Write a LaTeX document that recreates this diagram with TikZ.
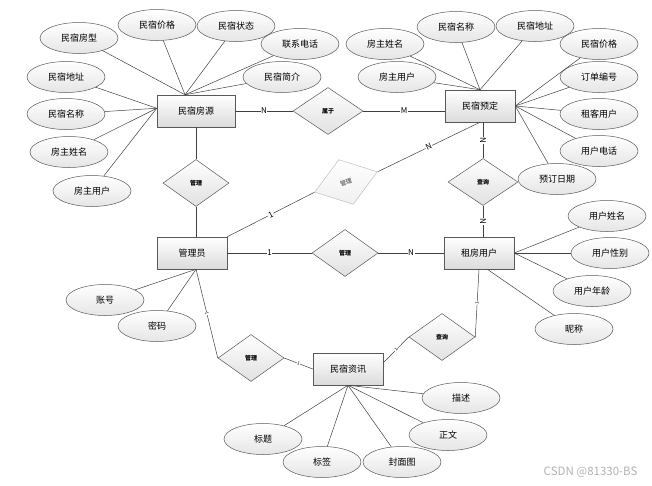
\documentclass[tikz,border=0pt]{standalone}
\usepackage{fontspec}
\setmainfont{Noto Sans CJK SC}
\usetikzlibrary{positioning,shapes.geometric}

\begin{document}
\begin{tikzpicture}[x=1pt, y=-1pt,
    font=\fontsize{9}{10}\selectfont, line width=0.5pt, draw=black!75,
    ent/.style={draw=black!65, top color=white, bottom color=black!14, minimum width=70pt, minimum height=32pt, inner sep=0pt},
    attr/.style={draw=black!65, ellipse, top color=white, bottom color=black!10, minimum width=78pt, minimum height=31pt, inner sep=0pt},
    rel/.style={draw=black!65, diamond, top color=white, bottom color=black!12, minimum width=66pt, minimum height=47pt, inner sep=0pt, font=\fontsize{6}{6}\selectfont\bfseries},
    card/.style={fill=white, inner sep=0.6pt, font=\fontsize{8}{8}\selectfont},
    tick/.style={fill=white, inner sep=0.3pt, sloped, font=\fontsize{4.5}{4.5}\selectfont}]
  \useasboundingbox (0,0) rectangle (652,485);

  % entities
  \node[ent, minimum width=78pt] (fy) at (196,111) {民宿房源};
  \node[ent] (yd) at (480,106) {民宿预定};
  \node[ent] (gly) at (192,253) {管理员};
  \node[ent] (zf) at (479,253) {租房用户};
  \node[ent] (zx) at (348,369) {民宿资讯};

  % relations
  \node[rel, minimum width=70pt] (sy) at (328,111) {属于};
  \node[rel] (gl1) at (196,183) {管理};
  \node[rel, rotate=18, draw=black!25, text=black!50, bottom color=black!6] (gl2) at (346,182) {管理};
  \node[rel, minimum width=70pt] (cx1) at (483,182) {查询};
  \node[rel] (gl3) at (345,253) {管理};
  \node[rel] (cx2) at (442,337) {查询};
  \node[rel] (gl4) at (251,358) {管理};

  % attributes of 民宿房源
  \node[attr] (fa1) at (79,38) {民宿房型};
  \node[attr] (fa2) at (157,25) {民宿价格};
  \node[attr] (fa3) at (236,26) {民宿状态};
  \node[attr] (fa4) at (300,44) {联系电话};
  \node[attr] (fa5) at (282,77) {民宿简介};
  \node[attr] (fa6) at (66,77) {民宿地址};
  \node[attr] (fa7) at (66,114) {民宿名称};
  \node[attr] (fa8) at (69,152) {房主姓名};
  \node[attr] (fa9) at (92,191) {房主用户};

  % attributes of 民宿预定
  \node[attr] (ya1) at (385,44) {房主姓名};
  \node[attr] (ya2) at (456,27) {民宿名称};
  \node[attr] (ya3) at (535,26) {民宿地址};
  \node[attr] (ya4) at (599,44) {民宿价格};
  \node[attr] (ya5) at (397,77) {房主用户};
  \node[attr] (ya6) at (599,77) {订单编号};
  \node[attr] (ya7) at (599,114) {租客用户};
  \node[attr] (ya8) at (599,151) {用户电话};
  \node[attr] (ya9) at (557,179) {预订日期};

  % attributes of 租房用户
  \node[attr] (za1) at (607,216) {用户姓名};
  \node[attr] (za2) at (610,253) {用户性别};
  \node[attr] (za3) at (592,291) {用户年龄};
  \node[attr] (za4) at (574,329) {昵称};

  % attributes of 管理员
  \node[attr] (ga1) at (105,300) {账号};
  \node[attr] (ga2) at (157,326) {密码};

  % attributes of 民宿资讯
  \node[attr] (xa1) at (461,398) {描述};
  \node[attr] (xa2) at (448,435) {正文};
  \node[attr] (xa3) at (402,462) {封面图};
  \node[attr] (xa5) at (263,439) {标题};
  \node[attr] (xa4) at (322,462) {标签};

  \node[text=black!30, font=\fontsize{11.5}{11.5}\selectfont, anchor=east] (wm) at (641,472) {CSDN @81330-BS};

  \draw (fa1) -- (fy.124);
  \draw (fa2) -- (fy.124);
  \draw (fa3) -- (fy.124);
  \draw (fa4) -- (fy.124);
  \draw (fa5) -- (fy.124);
  \draw (fa6) -- (fy.176);
  \draw (fa7) -- (fy.176);
  \draw (fa8) -- (fy.176);
  \draw (fa9) -- (fy.176);

  \draw (ya1) -- (yd.north);
  \draw (ya2) -- (yd.north);
  \draw (ya3) -- (yd.north);
  \draw (ya5) -- (yd.north);
  \draw (ya4) -- (yd.east);
  \draw (ya6) -- (yd.east);
  \draw (ya7) -- (yd.east);
  \draw (ya8) -- (yd.east);
  \draw (ya9) -- (yd.east);

  \draw (za1) -- (zf.east);
  \draw (za2) -- (zf.east);
  \draw (za3) -- (zf.east);
  \draw (za4) -- (zf.-63);

  \draw (ga1) -- (gly.-76);
  \draw (ga2) -- (gly.-76);

  \draw (xa1) -- (zx.south);
  \draw (xa2) -- (zx.south);
  \draw (xa3) -- (zx.south);
  \draw (xa4) -- (zx.south);
  \draw (xa5) -- (zx.south);

  \draw (fy) -- node[card] {N} (sy);
  \draw (sy.east) -- node[card] {M} (sy.east -| yd.west);
  \draw (fy) -- (gl1);
  \draw (gl1.south) -- (gl1.south |- gly.north);
  \draw (gly.north east) -- node[card, sloped] {1} (gl2.west);
  \draw (gl2.east) -- node[card, sloped] {N} (yd.south);
  \draw (cx1.north |- yd.south) -- node[card, sloped] {N} (cx1.north);
  \draw (cx1.south) -- node[card, sloped] {N} (cx1.south |- zf.north);
  \draw (gly) -- node[card] {1} (gl3);
  \draw (gl3) -- node[card] {N} (zf);
  \draw (gly.-76) -- node[tick] {1} (gl4.west);
  \draw (gl4.east) -- node[tick] {1} (zx.west);
  \draw (zx.10) -- node[tick] {1} (cx2.west);
  \draw (cx2.east) -- node[tick] {1} (zf.south);
\end{tikzpicture}
\end{document}
